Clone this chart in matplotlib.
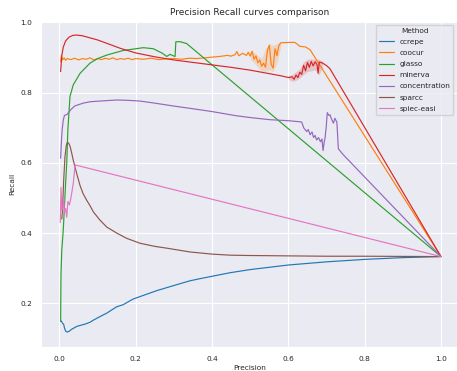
import matplotlib
matplotlib.use("Agg")
import matplotlib.pyplot as plt
import seaborn as sns

methods = ["ccrepe", "coocur", "glasso", "minerva", "concentration", "sparcc", "spiec-easi"]
colors = ["#1f77b4", "#ff7f0e", "#2ca02c", "#d62728", "#9467bd", "#8c564b", "#e377c2"]

ccrepe_pts = [(0.004, 0.15), (0.006, 0.147), (0.008, 0.143), (0.011, 0.14), (0.013, 0.13),
              (0.016, 0.121), (0.02, 0.118), (0.025, 0.12), (0.032, 0.126), (0.045, 0.134),
              (0.058, 0.138), (0.068, 0.141), (0.08, 0.146), (0.089, 0.152), (0.106, 0.162),
              (0.124, 0.172), (0.15, 0.19), (0.167, 0.196), (0.193, 0.212), (0.211, 0.219),
              (0.255, 0.236), (0.298, 0.25), (0.342, 0.264), (0.368, 0.27), (0.447, 0.287),
              (0.5, 0.296), (0.6, 0.309), (0.7, 0.318), (0.8, 0.325), (0.9, 0.33), (1.0, 0.333)]

coocur_pts = [(0.003, 0.888), (0.005, 0.905), (0.008, 0.893), (0.012, 0.899), (0.016, 0.892),
              (0.02, 0.897), (0.03, 0.894), (0.04, 0.898), (0.05, 0.893), (0.06, 0.897),
              (0.07, 0.895), (0.08, 0.899), (0.09, 0.893), (0.10, 0.897), (0.11, 0.894),
              (0.12, 0.898), (0.13, 0.895), (0.14, 0.899), (0.15, 0.894), (0.16, 0.897),
              (0.17, 0.895), (0.18, 0.898), (0.19, 0.894), (0.20, 0.897), (0.22, 0.895),
              (0.24, 0.898), (0.26, 0.894), (0.28, 0.896), (0.30, 0.897), (0.32, 0.895),
              (0.34, 0.898), (0.36, 0.897), (0.38, 0.899), (0.40, 0.901), (0.42, 0.903),
              (0.44, 0.906), (0.45, 0.904), (0.46, 0.908), (0.465, 0.917), (0.47, 0.905),
              (0.48, 0.912), (0.49, 0.906), (0.495, 0.915), (0.50, 0.904), (0.505, 0.918),
              (0.51, 0.895), (0.515, 0.905), (0.52, 0.885), (0.525, 0.893), (0.53, 0.875),
              (0.535, 0.884), (0.54, 0.872), (0.545, 0.92), (0.55, 0.935), (0.555, 0.88),
              (0.56, 0.87), (0.565, 0.925), (0.57, 0.905), (0.575, 0.934), (0.58, 0.942),
              (0.60, 0.943), (0.617, 0.943), (0.63, 0.932), (0.645, 0.93), (0.657, 0.922),
              (1.0, 0.333)]

glasso_pts = [(0.003, 0.148), (0.004, 0.285), (0.006, 0.35), (0.01, 0.41), (0.015, 0.52),
              (0.019, 0.6), (0.022, 0.694), (0.0275, 0.789), (0.036, 0.822), (0.054, 0.855),
              (0.08, 0.884), (0.1, 0.897), (0.124, 0.907), (0.167, 0.92), (0.22, 0.928),
              (0.246, 0.925), (0.27, 0.912), (0.281, 0.903), (0.29, 0.909), (0.298, 0.905),
              (0.303, 0.903), (0.305, 0.945), (0.316, 0.945), (0.333, 0.94), (1.0, 0.333)]

minerva_pts = [(0.003, 0.860), (0.006, 0.905), (0.01, 0.93), (0.016, 0.947), (0.025, 0.958),
               (0.035, 0.963), (0.045, 0.964), (0.06, 0.962), (0.08, 0.956), (0.10, 0.95),
               (0.13, 0.938), (0.16, 0.926), (0.2, 0.913), (0.25, 0.902), (0.3, 0.893),
               (0.35, 0.886), (0.4, 0.879), (0.45, 0.872), (0.5, 0.864), (0.55, 0.854),
               (0.58, 0.848), (0.6, 0.843), (0.61, 0.845), (0.615, 0.838), (0.62, 0.85),
               (0.625, 0.843), (0.63, 0.858), (0.635, 0.852), (0.64, 0.878), (0.645, 0.862),
               (0.65, 0.886), (0.655, 0.872), (0.66, 0.889), (0.665, 0.876), (0.67, 0.888),
               (0.675, 0.88), (0.678, 0.855), (0.681, 0.887), (0.69, 0.884), (0.70, 0.877),
               (0.709, 0.868), (1.0, 0.333)]

concentration_pts = [(0.003, 0.613), (0.005, 0.66), (0.007, 0.694), (0.01, 0.722), (0.013, 0.735),
                     (0.02, 0.738), (0.03, 0.752), (0.04, 0.762), (0.062, 0.77), (0.08, 0.774),
                     (0.106, 0.776), (0.15, 0.779), (0.18, 0.778), (0.211, 0.776), (0.25, 0.77),
                     (0.298, 0.762), (0.35, 0.754), (0.4, 0.746), (0.464, 0.734), (0.5, 0.729),
                     (0.55, 0.723), (0.6, 0.72), (0.63, 0.717), (0.635, 0.716), (0.64, 0.70),
                     (0.645, 0.693), (0.648, 0.689), (0.652, 0.695), (0.657, 0.68), (0.662, 0.688),
                     (0.666, 0.672), (0.67, 0.678), (0.674, 0.665), (0.679, 0.672), (0.684, 0.66),
                     (0.688, 0.668), (0.691, 0.635), (0.694, 0.66), (0.696, 0.67), (0.699, 0.7),
                     (0.702, 0.743), (0.706, 0.735), (0.709, 0.737), (0.713, 0.725), (0.718, 0.713),
                     (0.722, 0.727), (0.725, 0.72), (0.727, 0.717), (0.729, 0.68), (0.731, 0.64),
                     (0.744, 0.623), (1.0, 0.333)]

sparcc_pts = [(0.006, 0.44), (0.008, 0.466), (0.011, 0.55), (0.0144, 0.618), (0.018, 0.65),
              (0.0205, 0.658), (0.024, 0.656), (0.0275, 0.648), (0.032, 0.628), (0.036, 0.608),
              (0.045, 0.57), (0.054, 0.535), (0.062, 0.512), (0.071, 0.494), (0.08, 0.478),
              (0.089, 0.46), (0.106, 0.437), (0.124, 0.417), (0.15, 0.4), (0.176, 0.385),
              (0.211, 0.371), (0.25, 0.362), (0.281, 0.357), (0.343, 0.346), (0.4, 0.34),
              (0.447, 0.337), (0.5, 0.336), (0.6, 0.335), (0.7, 0.334), (0.8, 0.334), (1.0, 0.333)]

spiec_easi_pts = [(0.002, 0.43), (0.004, 0.53), (0.006, 0.465), (0.009, 0.47), (0.011, 0.50),
                  (0.013, 0.46), (0.016, 0.47), (0.019, 0.445), (0.022, 0.49), (0.026, 0.48),
                  (0.03, 0.5), (0.036, 0.54), (0.041, 0.594), (1.0, 0.333)]

# confidence bands (x, lower, upper) visible in the noisy regions
coocur_band = [(0.50, 0.895, 0.918), (0.51, 0.885, 0.915), (0.52, 0.872, 0.905),
               (0.53, 0.862, 0.898), (0.54, 0.86, 0.925), (0.55, 0.865, 0.94),
               (0.56, 0.86, 0.935), (0.57, 0.885, 0.94), (0.58, 0.93, 0.946)]
minerva_band = [(0.60, 0.838, 0.848), (0.61, 0.832, 0.852), (0.62, 0.835, 0.86),
                (0.63, 0.842, 0.868), (0.64, 0.852, 0.888), (0.65, 0.86, 0.895),
                (0.66, 0.862, 0.896), (0.67, 0.865, 0.895), (0.68, 0.85, 0.895),
                (0.69, 0.875, 0.89)]

series = [ccrepe_pts, coocur_pts, glasso_pts, minerva_pts, concentration_pts, sparcc_pts, spiec_easi_pts]

sns.set_style("darkgrid")
plt.rcParams['font.family'] = ['DejaVu Sans']

fig = plt.figure(figsize=(4.57, 3.71), dpi=100)
ax = fig.add_axes([41.4 / 457, 24.3 / 371, (457 - 41.4) / 457, (346.7 - 21) / 371])

for band, col in [(coocur_band, colors[1]), (minerva_band, colors[3])]:
    ax.fill_between([b[0] for b in band], [b[1] for b in band], [b[2] for b in band],
                    color=col, alpha=0.2, lw=0)

for name, col, pts in zip(methods, colors, series):
    xs = [p[0] for p in pts]
    ys = [p[1] for p in pts]
    ax.plot(xs, ys, color=col, lw=0.85, label=name)

ax.set_xlim(-0.0474, 1.042)
ax.set_ylim(0.0763, 1.004)
ax.set_xticks([0.0, 0.2, 0.4, 0.6, 0.8, 1.0])
ax.set_yticks([0.2, 0.4, 0.6, 0.8, 1.0])
ax.tick_params(labelsize=5.3, pad=3, colors='.15')
ax.grid(color='white', lw=0.8)
ax.set_xlabel("Precision", fontsize=5.3, color='.15', labelpad=2)
ax.set_ylabel("Recall", fontsize=5.3, color='.15', labelpad=4)
ax.set_title("Precision Recall curves comparison", fontsize=6.5, color='.15', pad=4)
leg = ax.legend(title="Method", loc="upper right", fontsize=5.3, title_fontsize=5.3,
                handlelength=2.0, borderaxespad=0.5, labelspacing=0.68)

fig.savefig("out.png", dpi=100)
